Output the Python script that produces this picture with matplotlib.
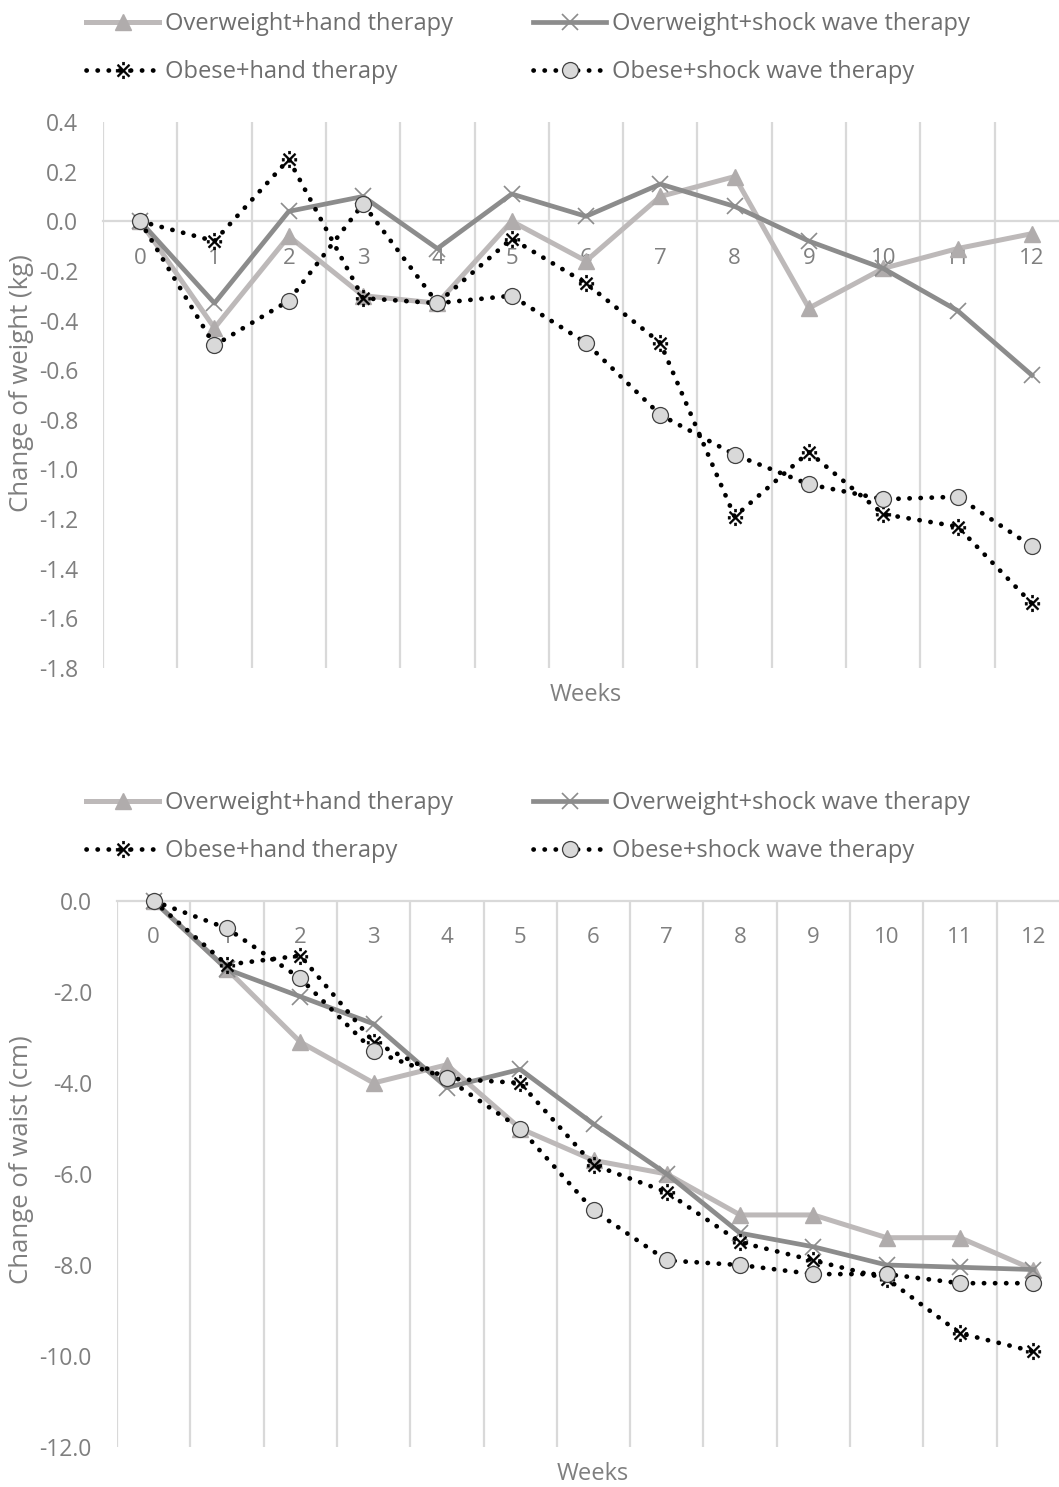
import numpy as np
import matplotlib
matplotlib.use("Agg")
import matplotlib.pyplot as plt
from matplotlib.lines import Line2D
from matplotlib.ticker import FixedLocator, FuncFormatter

plt.rcParams['font.family'] = ['Open Sans', 'DejaVu Sans']

weeks = list(range(13))
week_labels = [str(w) for w in weeks]
names = ['Overweight+hand therapy', 'Overweight+shock wave therapy',
         'Obese+hand therapy', 'Obese+shock wave therapy']

# change of weight (kg)
wt_ow_hand = [0, -0.43, -0.06, -0.30, -0.33, 0.00, -0.16, 0.10, 0.18, -0.35, -0.19, -0.11, -0.05]
wt_ow_shock = [0, -0.33, 0.04, 0.10, -0.11, 0.11, 0.02, 0.15, 0.06, -0.08, -0.19, -0.36, -0.62]
wt_ob_hand = [0, -0.08, 0.25, -0.31, -0.33, -0.07, -0.25, -0.49, -1.19, -0.93, -1.18, -1.23, -1.54]
wt_ob_shock = [0, -0.50, -0.32, 0.07, -0.33, -0.30, -0.49, -0.78, -0.94, -1.06, -1.12, -1.11, -1.31]

# change of waist (cm)
ws_ow_hand = [0, -1.5, -3.1, -4.0, -3.6, -5.0, -5.7, -6.0, -6.9, -6.9, -7.4, -7.4, -8.1]
ws_ow_shock = [0, -1.5, -2.1, -2.7, -4.1, -3.7, -4.9, -6.0, -7.3, -7.6, -8.0, -8.05, -8.1]
ws_ob_hand = [0, -1.4, -1.2, -3.1, -3.9, -4.0, -5.8, -6.4, -7.5, -7.9, -8.3, -9.5, -9.9]
ws_ob_shock = [0, -0.6, -1.7, -3.3, -3.9, -5.0, -6.8, -7.9, -8.0, -8.2, -8.2, -8.4, -8.4]

weight_yticks = [0.4, 0.2, 0.0, -0.2, -0.4, -0.6, -0.8, -1.0, -1.2, -1.4, -1.6, -1.8]
waist_yticks = [0.0, -2.0, -4.0, -6.0, -8.0, -10.0, -12.0]

GRID = '#d9d9d9'
TXT = '#7f7f7f'
DOT = (0, (0.05, 2.3))

styles = [
    dict(color='#bdb9b9', lw=3.6, marker='^', ms=11, mfc='#b0acac', mec='#b0acac', ls='-'),
    dict(color='#8c8c8c', lw=3.4, marker='x', ms=11, mew=1.2, mec='#8c8c8c', ls='-'),
    dict(color='black', lw=3.4, marker='$\u203b$', ms=12, mfc='black', mec='black', mew=0.3, ls=DOT,
         dash_capstyle='round'),
    dict(color='black', lw=3.4, marker='o', ms=11.5, mfc='#d9d9d9', mec='#404040', mew=0.9, ls=DOT,
         dash_capstyle='round'),
]

fig = plt.figure(figsize=(10.59, 14.87), dpi=100)
W, H = 1059, 1487


def make_axes(left, top, right, bottom):
    return fig.add_axes([left / W, 1 - bottom / H, (right - left) / W, (bottom - top) / H])


def style_axes(ax, yticks, fmt):
    ax.set_xlim(-0.5, 12.5)
    ax.set_ylim(yticks[-1], yticks[0])
    for s in ['top', 'right', 'left']:
        ax.spines[s].set_visible(False)
    ax.spines['bottom'].set_position(('data', 0))
    ax.spines['bottom'].set_color(GRID)
    ax.spines['bottom'].set_linewidth(1.6)
    ax.xaxis.set_major_locator(FixedLocator(weeks))
    ax.set_xticklabels(week_labels)
    ax.xaxis.set_minor_locator(FixedLocator(np.arange(-0.5, 13, 1)))
    ax.grid(which='minor', axis='x', color=GRID, lw=1.6)
    ax.tick_params(axis='x', which='both', length=0, pad=19, labelsize=16, labelcolor=TXT)
    ax.set_yticks(yticks)
    ax.yaxis.set_major_formatter(FuncFormatter(lambda v, p: fmt(v)))
    ax.tick_params(axis='y', length=0, pad=18, labelsize=16.5, labelcolor=TXT)
    ax.set_axisbelow(True)


def draw(ax, series):
    for ys, st in zip(series, styles):
        ax.plot(weeks, ys, clip_on=False, zorder=3, **st)


def fmt1(v):
    s = f'{v:.1f}'
    return '0.0' if s == '-0.0' else s


def add_legend(y):
    for i, (name, st) in enumerate(zip(names, styles)):
        x = 86 if i % 2 == 0 else 533
        yy = y if i < 2 else y + 48
        h = Line2D([], [], **st)
        fig.legend(handles=[h], labels=[name], loc='center left',
                   bbox_to_anchor=(x / W, 1 - yy / H), frameon=False,
                   borderpad=0, borderaxespad=0, handlelength=3.1,
                   handletextpad=0.25, fontsize=17, labelcolor='#6e6e6e')


ax1 = make_axes(103, 122, 1069, 668)
style_axes(ax1, weight_yticks, fmt1)
draw(ax1, [wt_ow_hand, wt_ow_shock, wt_ob_hand, wt_ob_shock])
fig.text(586 / W, 1 - 695 / H, 'Weeks', ha='center', va='center', fontsize=17, color=TXT)
fig.text(22 / W, 1 - 383 / H, 'Change of weight (kg)', rotation=90, ha='center', va='center',
         fontsize=18.5, color=TXT)
add_legend(24)

ax2 = make_axes(117, 901, 1070, 1447)
style_axes(ax2, waist_yticks, fmt1)
draw(ax2, [ws_ow_hand, ws_ow_shock, ws_ob_hand, ws_ob_shock])
fig.text(593 / W, 1 - 1474 / H, 'Weeks', ha='center', va='center', fontsize=17, color=TXT)
fig.text(22 / W, 1 - 1160 / H, 'Change of waist (cm)', rotation=90, ha='center', va='center',
         fontsize=18.5, color=TXT)
add_legend(803)

fig.savefig('out.png', dpi=100)
